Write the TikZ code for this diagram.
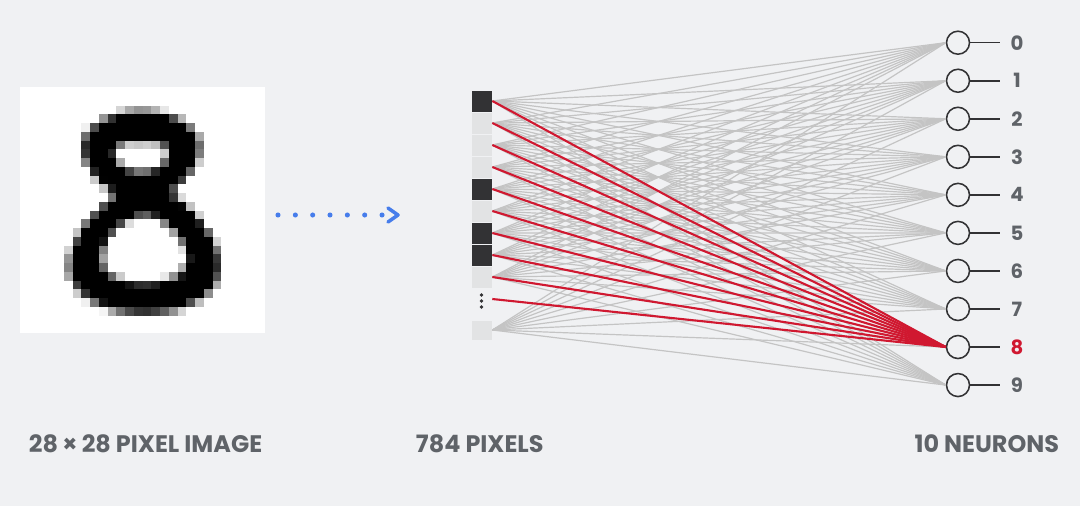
\documentclass[tikz,border=0pt]{standalone}
\usepackage{fontspec}
\setmainfont{Poppins}
\usetikzlibrary{arrows.meta,calc,positioning}
\definecolor{slidebg}{RGB}{240,241,243}
\definecolor{inkgray}{RGB}{95,99,104}
\definecolor{celldark}{RGB}{50,50,52}
\definecolor{celllight}{RGB}{226,227,228}
\definecolor{wiregray}{RGB}{196,196,196}
\definecolor{wirered}{RGB}{208,24,48}
\definecolor{arrowblue}{RGB}{70,125,235}
\tikzset{
  pixelcell/.style={
    draw=slidebg,
    line width=0.5pt,
    rectangle,
    minimum width=0.525cm,
    minimum height=0.55cm,
    inner sep=0pt
  },
  darkcell/.style={pixelcell,fill=celldark},
  lightcell/.style={pixelcell,fill=celllight},
  neuron/.style={
    draw=celldark,
    circle,
    line width=1.1pt,
    fill=slidebg,
    minimum size=0.575cm,
    inner sep=0pt
  },
  wire/.style={draw=wiregray,line width=0.85pt},
  hotwire/.style={draw=wirered,line width=1.5pt},
  leg/.style={draw=celldark,line width=1.1pt},
  digitlabel/.style={font=\fontsize{14}{14}\selectfont\bfseries,text=inkgray},
  caption/.style={font=\fontsize{17}{17}\selectfont\bfseries,text=inkgray},
  dotline/.style={draw=arrowblue,line width=3.6pt,line cap=round,
    dash pattern=on 0pt off 12.33pt},
  chevron/.style={draw=arrowblue,line width=2.5pt,line cap=round,line join=round}
}

\begin{document}
\begin{tikzpicture}[x=0.025cm,y=-0.025cm]
  \fill[slidebg] (0,0) rectangle (1080,506);

  % Input image, 28 x 28 pixels
  \node[fill=white,minimum size=6.125cm,inner sep=0pt] (digit) at (142.5,210) {};
  \foreach \r in {0,...,27} {
    \foreach \c in {0,...,27} {
      \pgfmathsetmacro{\ux}{\c+0.5-13.85}
      \pgfmathsetmacro{\uy}{\r+0.5-7.85}
      \pgfmathsetmacro{\vx}{\c+0.5-14.2}
      \pgfmathsetmacro{\vy}{\r+0.5-18.4}
      \pgfmathsetmacro{\ax}{4.75*max(0.7,1-0.22*\uy/3.45)}
      \pgfmathsetmacro{\bx}{6.5*max(0.55,1+0.3*\vy/5.6)}
      \pgfmathsetmacro{\dtop}{abs(sqrt((\ux)*(\ux)+(\uy)*(\uy))*(1-1/max(sqrt((\ux/\ax)*(\ux/\ax)+(\uy/3.45)*(\uy/3.45)),0.05)))}
      \pgfmathsetmacro{\dbot}{abs(sqrt((\vx)*(\vx)+(\vy)*(\vy))*(1-1/max(sqrt((\vx/\bx)*(\vx/\bx)+(\vy/5.6)*(\vy/5.6)),0.05)))}
      \pgfmathsetmacro{\ink}{100*max(0,min(1,(2.35-min(\dtop,\dbot))/1.05))}
      \ifdim\ink pt>2pt
        \fill[black!\ink!white] (20+8.75*\c,88+8.75*\r) rectangle ++(8.85,8.85);
      \fi
    }
  }

  % Dotted arrow
  \coordinate (dotstart) at (278,215);
  \coordinate (dotend) at (382.5,215);
  \draw[dotline] (dotstart) -- (dotend);
  \draw[chevron] (388,208) -- (398,215) -- (388,222);

  % Flattened pixel column
  \foreach \i/\kind in {1/darkcell,2/lightcell,3/lightcell,4/lightcell,5/darkcell,
                        6/lightcell,7/darkcell,8/darkcell,9/lightcell} {
    \node[\kind] (cell\i) at (481.5,{79+22*\i}) {};
  }
  \node[minimum width=0.525cm,minimum height=0.4cm,inner sep=0pt] (more) at (481.5,301) {};
  \foreach \dy in {-6,0,6} {
    \fill[celldark] ($(more.center)+(0,\dy)$) circle (1.9);
  }
  \node[lightcell,minimum height=0.5cm] (cell10) at (481.5,330) {};

  % Output neurons
  \foreach \k in {0,...,9} {
    \node[neuron] (n\k) at (958,{42.7+38.04*\k}) {};
    \coordinate (leg\k) at (1000,{42.7+38.04*\k});
    \draw[leg] (n\k.east) -- (leg\k);
  }
  \foreach \k in {0,1,2,3,4,5,6,7,9} {
    \node[digitlabel] (lab\k) at (1017,{42.7+38.04*\k}) {\k};
  }
  \node[digitlabel,text=wirered] (lab8) at (1017,{42.7+38.04*8}) {8};

  % Weights
  \foreach \i in {1,...,10} {
    \foreach \k in {0,...,9} {
      \draw[wire] (cell\i.east) -- (n\k.west);
    }
  }
  \foreach \i in {1,...,9} {
    \draw[hotwire] (cell\i.east) -- (n8.west);
  }
  \draw[hotwire] ($(more.east)+(0,-2)$) -- (n8.west);

  % Captions
  \node[caption,anchor=west] (capimg) at (24,444) {28\kern3pt×\kern3pt28 PIXEL IMAGE};
  \node[caption,anchor=west] (cappix) at (411,444) {784 PIXELS};
  \node[caption,anchor=east] (capneu) at (1064,444) {10 NEURONS};
\end{tikzpicture}
\end{document}
